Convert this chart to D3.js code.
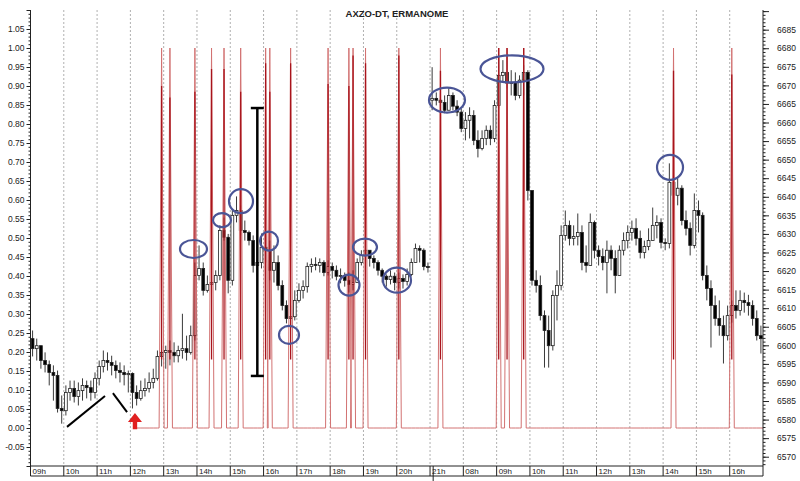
<!DOCTYPE html>
<html><head><meta charset="utf-8">
<script src="https://cdn.jsdelivr.net/npm/d3@7/dist/d3.min.js"></script>
<style>body{margin:0;background:#fff}svg{display:block}</style>
</head><body>
<svg id="c" width="800" height="481"></svg>
<script>
// ---------- DATA ----------
const title = "AXZO-DT, ERMANOME";
const hourLabels = ["09h","10h","11h","12h","13h","14h","15h","16h","17h","18h","19h","20h","21h","08h","09h","10h","11h","12h","13h","14h","15h","16h"];
const barsPerHour = 8;

const highs = [
 6604.0,6601.8,6599.9,6598.1,6595.9,6594.6,6593.2,6586.5,
 6589.2,6590.5,6590.5,6590.0,6591.1,6590.5,6590.5,6592.7,
 6595.9,6598.6,6598.1,6597.2,6595.9,6595.4,6594.6,6593.2,
 6592.7,6589.2,6590.5,6591.1,6592.7,6593.7,6598.6,6599.9,
 6599.9,6601.3,6600.8,6599.9,6608.5,6602.6,6605.3,6622.3,
 6626.9,6622.3,6618.8,6618.0,6620.2,6632.3,6634.4,6630.0,
 6636.3,6640.1,6637.7,6633.6,6630.9,6629.6,6626.9,6630.1,
 6629.6,6628.2,6626.9,6624.2,6617.5,6612.1,6610.7,6614.8,
 6616.7,6617.5,6622.3,6623.4,6623.7,6623.4,6622.9,6622.9,
 6622.3,6621.5,6620.7,6619.6,6619.6,6620.2,6623.4,6625.6,
 6627.4,6625.6,6624.2,6622.9,6620.7,6619.1,6620.2,6619.6,
 6619.6,6619.1,6620.7,6623.4,6627.4,6626.9,6626.1,6622.3,
 6674.9,6668.1,6667.9,6667.3,6669.2,6668.1,6666.0,6663.8,
 6662.8,6664.1,6663.3,6657.9,6657.9,6659.2,6659.2,6666.0,
 6677.6,6676.8,6677.6,6674.1,6673.5,6672.7,6675.4,6674.1,
 6641.7,6620.2,6618.8,6609.4,6608.0,6614.8,6620.2,6632.3,
 6636.3,6633.6,6632.3,6635.5,6632.3,6626.9,6635.5,6633.6,
 6626.9,6626.1,6628.2,6626.9,6625.6,6626.9,6630.4,6632.3,
 6633.6,6634.2,6630.9,6628.2,6631.5,6637.1,6635.0,6634.2,
 6628.8,6649.0,6648.5,6645.0,6643.1,6636.3,6633.1,6640.9,
 6639.0,6635.8,6621.5,6617.5,6613.4,6612.1,6608.0,6610.7,
 6612.1,6614.8,6614.8,6614.2,6613.6,6612.1,6609.4,6605.3
];
const lows = [
 6597.0,6595.9,6593.7,6592.7,6589.2,6585.1,6581.9,6578.9,
 6581.1,6585.1,6584.6,6583.8,6585.1,6585.7,6585.1,6585.7,
 6589.2,6592.7,6593.2,6591.9,6591.1,6590.0,6589.2,6587.3,
 6583.0,6583.8,6585.1,6586.2,6587.3,6588.4,6590.5,6594.3,
 6593.7,6594.6,6595.4,6595.4,6596.4,6595.9,6597.5,6601.3,
 6617.5,6613.4,6614.2,6614.2,6614.8,6617.5,6628.2,6614.0,
 6616.1,6633.1,6629.6,6628.2,6626.9,6619.6,6618.8,6620.7,
 6622.3,6617.5,6616.9,6614.8,6609.4,6605.9,6605.3,6606.7,
 6611.5,6612.6,6614.2,6619.6,6620.2,6619.6,6618.6,6618.8,
 6618.0,6617.5,6616.7,6615.8,6614.2,6614.8,6616.9,6621.5,
 6622.3,6621.2,6620.7,6618.8,6616.9,6615.8,6616.4,6614.8,
 6615.3,6615.3,6616.1,6618.6,6622.3,6622.3,6620.2,6619.6,
 6663.3,6664.6,6663.8,6662.5,6663.3,6663.3,6661.7,6657.4,
 6655.2,6655.7,6653.9,6650.6,6652.5,6653.9,6653.9,6654.7,
 6663.8,6670.8,6669.2,6667.3,6666.0,6666.5,6667.3,6639.0,
 6616.1,6614.2,6606.7,6594.0,6594.0,6598.6,6606.7,6614.8,
 6628.2,6626.9,6626.9,6626.9,6620.2,6619.6,6621.5,6623.4,
 6621.5,6620.2,6614.0,6620.2,6614.0,6618.8,6624.2,6626.1,
 6628.2,6626.9,6623.4,6623.4,6625.6,6628.2,6628.8,6626.1,
 6625.6,6626.1,6639.0,6637.7,6632.3,6629.6,6624.2,6626.1,
 6630.4,6617.5,6612.1,6599.4,6605.3,6602.6,6595.1,6601.3,
 6606.1,6607.2,6608.0,6608.8,6608.0,6605.3,6601.3,6597.8
];
const closes = [
 6599.1,6599.9,6595.9,6594.8,6592.7,6591.9,6583.0,6582.4,
 6587.3,6588.4,6586.2,6587.8,6589.2,6588.6,6587.3,6591.1,
 6594.3,6595.9,6595.4,6594.6,6593.2,6592.7,6592.1,6592.4,
 6587.3,6585.7,6587.8,6588.4,6590.0,6591.1,6597.0,6598.1,
 6598.6,6598.1,6597.2,6598.6,6599.1,6598.1,6602.6,6618.8,
 6620.7,6614.8,6616.4,6616.9,6618.8,6630.9,6629.1,6617.5,
 6635.0,6636.3,6630.9,6630.4,6628.2,6621.5,6622.3,6626.4,
 6625.6,6620.2,6622.3,6616.1,6610.7,6607.2,6607.7,6612.1,
 6614.8,6615.8,6621.2,6621.8,6621.5,6622.3,6619.6,6621.2,
 6620.2,6618.6,6618.8,6617.5,6616.4,6616.9,6622.3,6624.2,
 6625.6,6623.4,6622.3,6620.2,6618.6,6617.7,6618.6,6616.9,
 6618.0,6617.2,6619.1,6622.3,6626.1,6625.6,6621.2,6621.0,
 6666.5,6666.0,6665.4,6663.3,6667.3,6664.4,6662.8,6658.4,
 6660.6,6661.9,6655.2,6653.0,6655.7,6657.9,6655.7,6664.6,
 6672.7,6673.5,6670.6,6670.8,6667.3,6671.4,6673.5,6641.7,
 6617.5,6616.1,6608.0,6604.0,6599.9,6613.4,6616.1,6629.6,
 6632.3,6628.8,6629.3,6630.4,6622.3,6621.5,6633.1,6625.6,
 6623.9,6622.3,6625.6,6623.4,6618.8,6625.6,6628.2,6630.4,
 6631.5,6628.8,6625.0,6626.6,6628.2,6632.3,6633.1,6627.7,
 6627.4,6643.9,6640.4,6642.3,6633.6,6631.5,6626.9,6636.3,
 6635.0,6618.8,6615.3,6610.7,6607.2,6605.3,6602.6,6608.0,
 6610.7,6609.4,6612.1,6611.5,6610.7,6607.2,6602.6,6601.8
];
// session opens (open of other bars = previous close)
const sessionOpenBars = [0, 96];
const sessionOpens = [6601.8, 6666.0];

// red indicator (left axis, 0..1)
const indicatorStartBar = 25;
const spikeBars  = [31,33,39,43,46,50,56,57,62,71,76,77,80,88,98,112,114,118,154,168];
const spikePeaks = [1,1,1,1,1,1,1,1,1,1,1,1,1,1,1,1,1,1,1,1];
const spikeCore  = [0.90,0.87,0.885,0.945,0.945,0.885,0.96,0.885,0.96,0.905,0.90,0.98,0.96,0.98,0.94,1.0,1.0,1.0,0.94,0.93];

// annotations (bar index, left-axis value)
const ellipseBars = [38.66,45.51,50.08,56.81,61.61,76.03,79.87,87.56,99.57,115.19,153.16];
const ellipseVals = [0.471,0.547,0.597,0.492,0.245,0.376,0.476,0.389,0.863,0.945,0.686];
const ellipseRx   = [13.5,9,12,9,10,10.5,12,14,18,31.5,13];
const ellipseRy   = [9,7,12,9.5,9,10.5,8.5,12.5,12.5,13.5,12.5];
const errorBar = {bar: 54, low: 0.137, high: 0.842};
const trendSegments = [
  {b1: 8.27, v1: 0.003, b2: 17.4, v2: 0.084},
  {b1: 19.3, v1: 0.092, b2: 22.7, v2: 0.042}
];
const arrowMark = {bar: 24.6, tip: 0.0395, base: -0.003};
const dayBreakBar = 96.75;

// left & right tick values
const leftMajor = d3.range(-2, 23).map(k => +(k * 0.05).toFixed(2));
const leftMinor = d3.range(-10, 111).map(k => +(k / 100).toFixed(2));
const rightMajor = d3.range(6570, 6691, 5);
const rightMinor = d3.range(6568, 6691, 1);

// ---------- CHART ----------
const svg = d3.select("#c");
const FONT = "'Liberation Sans', Arial, sans-serif";
const X0 = 30.5, X1 = 763, YT = 10, YB = 466, YS = 476;
const nBars = closes.length;
const xi = d3.scaleLinear().domain([0, nBars]).range([X0, X1]);
const xc = i => xi(i + 0.5);
const yL = d3.scaleLinear().domain([-0.1, 1.1]).range([YB, YT]);
const yR = d3.scaleLinear().domain([6567.5, 6690.3]).range([YB, YT]);

const opens = closes.map((c, i) => {
  const s = sessionOpenBars.indexOf(i);
  return s >= 0 ? sessionOpens[s] : closes[i - 1];
});

// gridlines
const nH = hourLabels.length;
svg.append("g").selectAll("line").data(d3.range(1, nH)).join("line")
  .attr("x1", k => xi(k * barsPerHour)).attr("x2", k => xi(k * barsPerHour))
  .attr("y1", YT).attr("y2", YB)
  .attr("stroke", "#b0b0b0").attr("stroke-width", 1).attr("stroke-dasharray", "2,2");

// candles
const bw = 2.8;
const gC = svg.append("g");
gC.selectAll("line").data(closes).join("line")
  .attr("x1", (d, i) => xc(i)).attr("x2", (d, i) => xc(i))
  .attr("y1", (d, i) => yR(highs[i])).attr("y2", (d, i) => yR(lows[i]))
  .attr("stroke", "#3a3a3a").attr("stroke-width", 1);
gC.selectAll("rect").data(closes).join("rect")
  .attr("x", (d, i) => xc(i) - bw / 2).attr("width", bw)
  .attr("y", (d, i) => yR(Math.max(opens[i], d)))
  .attr("height", (d, i) => Math.max(1, Math.abs(yR(opens[i]) - yR(d))))
  .attr("fill", (d, i) => d >= opens[i] ? "#fff" : "#000")
  .attr("stroke", "#222").attr("stroke-width", 0.8);

// indicator line
const pts = [];
for (let i = indicatorStartBar; i < nBars; i++) {
  const s = spikeBars.indexOf(i);
  if (s >= 0) { pts.push([i + 0.5 - 0.6, 0], [i + 0.5, spikePeaks[s]], [i + 0.5 + 0.6, 0]); }
  else pts.push([i + 0.5, 0]);
}
pts.push([nBars, 0]);
const line = d3.line().x(d => xi(d[0])).y(d => yL(d[1]));
svg.append("path").attr("d", line(pts)).attr("fill", "none")
  .attr("stroke", "#d27272").attr("stroke-width", 1);
svg.append("g").selectAll("line").data(spikeBars).join("line")
  .attr("x1", d => xc(d)).attr("x2", d => xc(d))
  .attr("y1", (d, i) => yL(spikeCore[i])).attr("y2", yL(0.18))
  .attr("stroke", "#a8141c").attr("stroke-width", 1.3);

// annotations
const eb = svg.append("g").attr("stroke", "#000").attr("stroke-width", 2.5);
eb.append("line").attr("x1", xc(errorBar.bar)).attr("x2", xc(errorBar.bar))
  .attr("y1", yL(errorBar.high)).attr("y2", yL(errorBar.low));
[errorBar.high, errorBar.low].forEach(v => eb.append("line")
  .attr("x1", xc(errorBar.bar) - 6.5).attr("x2", xc(errorBar.bar) + 6.5)
  .attr("y1", yL(v)).attr("y2", yL(v)));
svg.append("g").selectAll("line").data(trendSegments).join("line")
  .attr("x1", d => xc(d.b1)).attr("y1", d => yL(d.v1))
  .attr("x2", d => xc(d.b2)).attr("y2", d => yL(d.v2))
  .attr("stroke", "#000").attr("stroke-width", 2);
{
  const ax = xc(arrowMark.bar), ty = yL(arrowMark.tip), by = yL(arrowMark.base);
  const hy = ty + 9;
  svg.append("path").attr("fill", "#e02020")
    .attr("d", `M${ax},${ty}L${ax + 7},${hy}L${ax + 2.2},${hy}L${ax + 2.2},${by}L${ax - 2.2},${by}L${ax - 2.2},${hy}L${ax - 7},${hy}Z`);
}
svg.append("g").selectAll("ellipse").data(ellipseBars).join("ellipse")
  .attr("cx", d => xc(d)).attr("cy", (d, i) => yL(ellipseVals[i]))
  .attr("rx", (d, i) => ellipseRx[i]).attr("ry", (d, i) => ellipseRy[i])
  .attr("fill", "none").attr("stroke", "#4a5596").attr("stroke-width", 2.2);

// axes
function styleAxis(g) {
  g.select(".domain").remove();
  g.selectAll("text").attr("font-family", FONT).attr("font-size", 8.5).attr("fill", "#222");
  g.selectAll("line").attr("stroke", "#222");
}
const gL = svg.append("g").attr("transform", `translate(${X0},0)`);
gL.append("g").call(d3.axisLeft(yL).tickValues(leftMinor).tickSize(2).tickFormat("")).call(styleAxis);
gL.append("g").call(d3.axisLeft(yL).tickValues(leftMajor).tickSize(4).tickPadding(2)
  .tickFormat(d => (d < -0.06 || d > 1.06) ? "" : d.toFixed(2))).call(styleAxis);
const gR = svg.append("g").attr("transform", `translate(${X1},0)`);
gR.append("g").call(d3.axisRight(yR).tickValues(rightMinor).tickSize(2.5).tickFormat("")).call(styleAxis);
gR.append("g").call(d3.axisRight(yR).tickValues(rightMajor).tickSize(6).tickPadding(8)
  .tickFormat(d => d > 6686 ? "" : d)).call(styleAxis);

svg.append("line").attr("x1", X0).attr("x2", X0).attr("y1", YT).attr("y2", YS).attr("stroke", "#222");
svg.append("line").attr("x1", X1).attr("x2", X1).attr("y1", YT).attr("y2", YS).attr("stroke", "#222");

// time strip
svg.append("line").attr("x1", X0).attr("x2", X1).attr("y1", YB).attr("y2", YB).attr("stroke", "#222");
svg.append("line").attr("x1", X0).attr("x2", X1).attr("y1", YS).attr("y2", YS).attr("stroke", "#222");
svg.append("g").selectAll("line").data(d3.range(0, nH)).join("line")
  .attr("x1", k => xi(k * barsPerHour)).attr("x2", k => xi(k * barsPerHour))
  .attr("y1", YB).attr("y2", YS).attr("stroke", "#222");
svg.append("line").attr("x1", xi(dayBreakBar)).attr("x2", xi(dayBreakBar))
  .attr("y1", YB).attr("y2", 481).attr("stroke", "#222");
svg.append("g").selectAll("text").data(hourLabels).join("text")
  .attr("x", (d, k) => xi(k * barsPerHour) + 2).attr("y", 474)
  .attr("font-family", FONT).attr("font-size", 8).attr("fill", "#222").text(d => d);

// title
svg.append("text").attr("x", 397).attr("y", 17).attr("text-anchor", "middle")
  .attr("font-family", FONT).attr("font-size", 9.5).attr("font-weight", "bold")
  .attr("fill", "#222").text(title);
</script>
</body></html>
